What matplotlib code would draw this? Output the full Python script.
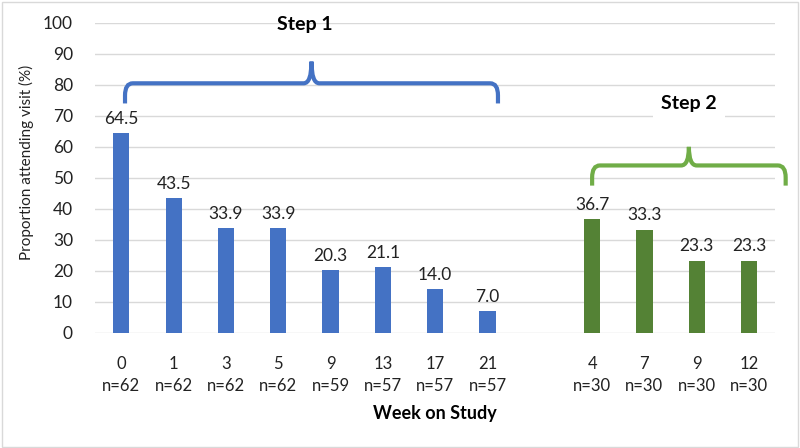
import matplotlib
matplotlib.use("Agg")
import matplotlib.pyplot as plt
import numpy as np
from matplotlib.path import Path
from matplotlib.patches import PathPatch, Rectangle

plt.rcParams['font.family'] = ['Lato', 'DejaVu Sans']

# data
step1_weeks = ["0", "1", "3", "5", "9", "13", "17", "21"]
step1_n = [62, 62, 62, 62, 59, 57, 57, 57]
step1_vals = [64.5, 43.5, 33.9, 33.9, 20.3, 21.1, 14.0, 7.0]
step2_weeks = ["4", "7", "9", "12"]
step2_n = [30, 30, 30, 30]
step2_vals = [36.7, 33.3, 23.3, 23.3]

blue = "#4472C4"
green = "#548235"
green_brace = "#70AD47"

fig = plt.figure(figsize=(8, 4.48), dpi=100)
ax = fig.add_axes([0.119, 0.257, 0.850, 0.692])

x1 = np.arange(len(step1_vals))
x2 = np.arange(len(step2_vals)) + len(step1_vals) + 1

ax.bar(x1, step1_vals, width=0.31, color=blue, zorder=3)
ax.bar(x2, step2_vals, width=0.31, color=green, zorder=3)

for x, v in zip(list(x1) + list(x2), step1_vals + step2_vals):
    ax.text(x, v + 2.0, f"{v:.1f}", ha="center", va="bottom", fontsize=12.5, color="#222222")

ticks = list(x1) + list(x2)
labels = [f"{w}\nn={n}" for w, n in zip(step1_weeks + step2_weeks, step1_n + step2_n)]
ax.set_xticks(ticks)
ax.set_xticklabels(labels, fontsize=12, linespacing=1.45, color="#222222")
ax.tick_params(axis="x", length=0, pad=17)
ax.tick_params(axis="y", length=0, pad=16, labelsize=12.5, labelcolor="#222222")

ax.set_xlim(-0.5, x2[-1] + 0.5)
ax.set_ylim(0, 100)
ax.set_yticks(np.arange(0, 101, 10))
ax.yaxis.grid(True, color="#d9d9d9", lw=1, zorder=0)
for s in ax.spines.values():
    s.set_visible(False)

ax.set_ylabel("Proportion attending visit (%)", fontsize=11, color="#222222")
ax.yaxis.set_label_coords(-0.09, 0.55)
ax.set_xlabel("Week on Study", fontsize=13, fontweight="bold", labelpad=8)


def brace(ax, xa, xb, ybase, ytop, ypeak, color):
    xm = (xa + xb) / 2
    rx = 0.15
    ry = (ytop - ybase) * 0.6
    verts = [
        (xa, ybase), (xa, ytop - ry),
        (xa, ytop), (xa + rx, ytop),
        (xm - rx, ytop),
        (xm, ytop), (xm, ypeak),
        (xm, ytop), (xm + rx, ytop),
        (xb - rx, ytop),
        (xb, ytop), (xb, ytop - ry),
        (xb, ybase),
    ]
    codes = [Path.MOVETO, Path.LINETO,
             Path.CURVE3, Path.CURVE3,
             Path.LINETO,
             Path.CURVE3, Path.CURVE3,
             Path.CURVE3, Path.CURVE3,
             Path.LINETO,
             Path.CURVE3, Path.CURVE3,
             Path.LINETO]
    p = PathPatch(Path(verts, codes), fill=False, edgecolor=color, lw=3,
                  clip_on=False, zorder=4, capstyle="butt")
    ax.add_patch(p)


brace(ax, 0.07, 7.2, 74, 80.5, 87.5, blue)
brace(ax, 9.0, 12.7, 47.5, 54, 60, green_brace)

ax.text(3.5, 99.5, "Step 1", ha="center", va="center", fontsize=14, fontweight="bold")
ax.text(10.85, 74, "Step 2", ha="center", va="center", fontsize=14, fontweight="bold",
        bbox=dict(facecolor="white", edgecolor="none", pad=6), zorder=5)

fig.patches.append(Rectangle((0.002, 0.003), 0.995, 0.993, transform=fig.transFigure,
                             fill=False, edgecolor="#d9d9d9", lw=1))

fig.savefig("out.png", dpi=100)
